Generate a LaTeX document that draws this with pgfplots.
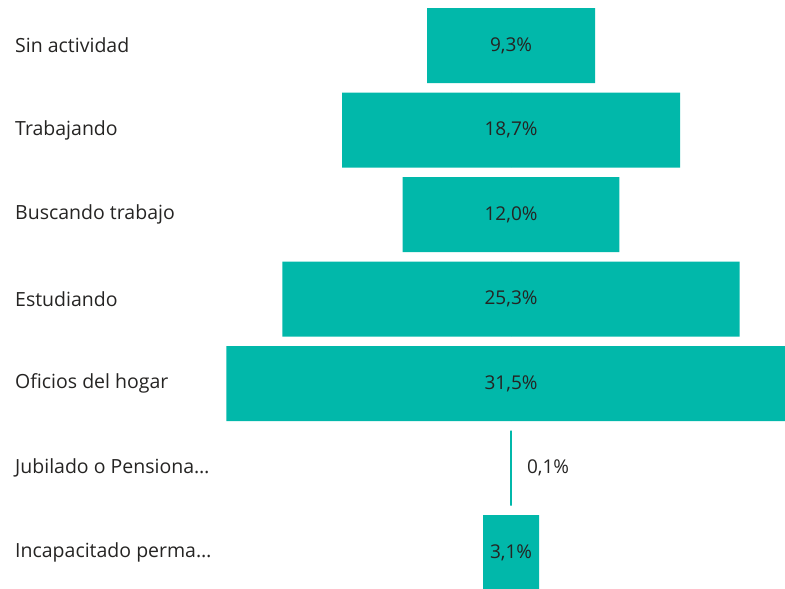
\documentclass[border=0pt]{standalone}
\usepackage{pgfplots}
\pgfplotsset{compat=1.18}
\usepackage{pgfplotstable}
\usepackage{fontspec}
\setmainfont{Open Sans}
\definecolor{barteal}{HTML}{01B8AA}
\definecolor{txt}{HTML}{252423}
\pgfplotstableread[col sep=semicolon]{
i;v;lx;name
0;9.3;0;Sin actividad
1;18.7;0;Trabajando
2;12.0;0;Buscando trabajo
3;25.3;0;Estudiando
4;31.5;0;Oficios del hogar
5;0.1;2.05;Jubilado o Pensiona…
6;3.1;0;Incapacitado perma…
}\data
\begin{document}
\begin{tikzpicture}
\begin{axis}[
  width=785pt, height=588pt, scale only axis,
  xmin=-28.28, xmax=15.16, ymin=-0.5385, ymax=6.42,
  y dir=reverse,
  axis line style={draw=none},
  xtick=\empty, ytick=\empty,
  clip=true,
]
\addplot[xbar, bar width=75pt, bar shift=0pt, fill=barteal, draw=none]
  table[x expr=\thisrow{v}/2, y=i]{\data};
\addplot[xbar, bar width=75pt, bar shift=0pt, fill=barteal, draw=none]
  table[x expr=-\thisrow{v}/2, y=i]{\data};
\addplot[draw=none, mark=none, point meta=\thisrow{v},
  nodes near coords={\pgfmathprintnumber[fixed,fixed zerofill,precision=1,use comma,assume math mode=true]{\pgfplotspointmeta}\%},
  every node near coord/.style={anchor=center, inner sep=0pt, font=\fontsize{19}{22}\selectfont, text=txt}]
  table[x=lx, y=i]{\data};
\addplot[draw=none, mark=none, point meta=explicit symbolic,
  nodes near coords,
  every node near coord/.style={anchor=west, inner sep=0pt, font=\fontsize{19.5}{23}\selectfont, text=txt}]
  table[x expr=-27.45, y=i, meta=name]{\data};
\end{axis}
\end{tikzpicture}
\end{document}
